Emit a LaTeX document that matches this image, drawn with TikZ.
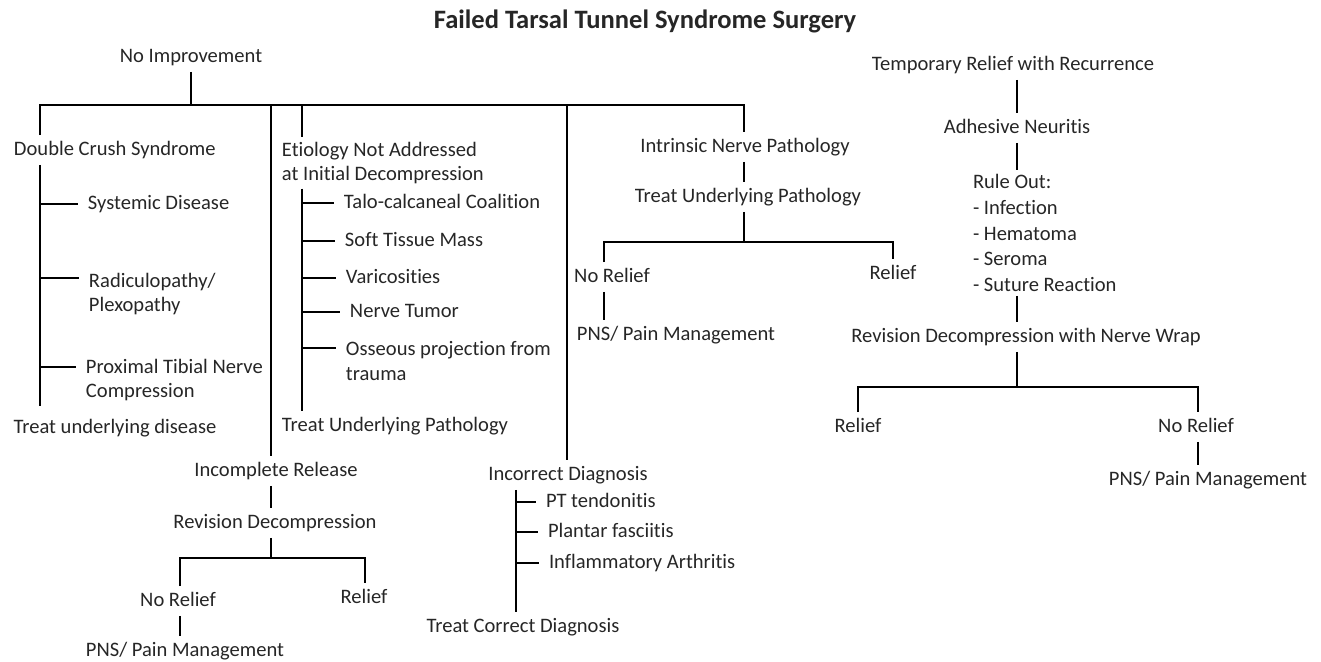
\documentclass[tikz,border=0pt]{standalone}
\usepackage{fontspec}
\setmainfont{Carlito}[Ligatures=NoCommon]
\usepackage{tikz}
\definecolor{ink}{HTML}{262626}
\tikzset{
  txt/.style={font=\fontsize{11.7pt}{14.2pt}\selectfont, text=ink, inner sep=0pt, outer sep=2.5pt},
  lbl/.style={txt, text height=9pt, text depth=3pt},
  lf/.style={lbl, anchor=west},
  blk/.style={txt, align=left, anchor=west},
  wire/.style={line width=1.5pt},
  tick/.style={wire, shorten >=3pt},
}

\begin{document}
\begin{tikzpicture}
\useasboundingbox (0,0) rectangle (26.420,-13.220);
\node[lbl,font=\bfseries\fontsize{15.1pt}{18pt}\selectfont] (ttl) at (12.900,-0.460) {Failed Tarsal Tunnel Syndrome Surgery};
\node[lbl] (nimp) at (3.820,-1.140) {No Improvement};
\node[lbl] (trr) at (20.260,-1.300) {Temporary Relief with Recurrence};
\coordinate (jA) at (0.800,-2.100);
\coordinate (jC) at (5.420,-2.100);
\coordinate (jE) at (6.040,-2.100);
\coordinate (jD) at (11.340,-2.100);
\coordinate (jB) at (14.880,-2.100);
\node[lf] (dcs) at (0.192,-3.000) {Double Crush Syndrome};
\node[lf] (sysd) at (1.672,-4.080) {Systemic Disease};
\node[blk] (radp) at (1.692,-5.880) {Radiculopathy/\\Plexopathy};
\node[blk] (ptnc) at (1.632,-7.600) {Proximal Tibial Nerve\\Compression};
\node[lbl] (tud) at (2.300,-8.560) {Treat underlying disease};
\node[blk] (eti) at (5.552,-3.260) {Etiology Not Addressed\\at Initial Decompression};
\node[lf] (tcc) at (6.792,-4.060) {Talo-calcaneal Coalition};
\node[lf] (stm) at (6.812,-4.820) {Soft Tissue Mass};
\node[lf] (var) at (6.832,-5.560) {Varicosities};
\node[lf] (ntm) at (6.912,-6.240) {Nerve Tumor};
\node[blk] (opt) at (6.832,-7.220) {Osseous projection from\\trauma};
\node[lbl] (tup1) at (7.900,-8.520) {Treat Underlying Pathology};
\node[lbl] (ir) at (5.520,-9.420) {Incomplete Release};
\node[lbl] (rd) at (5.500,-10.460) {Revision Decompression};
\coordinate (b1l) at (3.600,-11.160);
\coordinate (b1r) at (7.300,-11.160);
\node[lbl] (nr1) at (3.560,-12.020) {No Relief};
\node[lbl] (rel1) at (7.280,-11.960) {Relief};
\node[lbl] (pns1) at (3.700,-13.020) {PNS/ Pain Management};
\node[lbl] (idg) at (11.360,-9.500) {Incorrect Diagnosis};
\coordinate (isp) at (10.320,-9.700);
\node[lf] (ptt) at (10.832,-10.040) {PT tendonitis};
\node[lf] (plf) at (10.872,-10.640) {Plantar fasciitis};
\node[lf] (infa) at (10.892,-11.260) {Inflammatory Arthritis};
\node[lbl] (tcd) at (10.460,-12.540) {Treat Correct Diagnosis};
\node[lbl] (inp) at (14.900,-2.940) {Intrinsic Nerve Pathology};
\node[lbl] (tup2) at (14.960,-3.940) {Treat Underlying Pathology};
\coordinate (b2l) at (12.080,-4.840);
\coordinate (b2r) at (17.860,-4.840);
\node[lbl] (nr2) at (12.240,-5.540) {No Relief};
\node[lbl] (rel2) at (17.860,-5.480) {Relief};
\node[lbl] (pns2) at (13.520,-6.700) {PNS/ Pain Management};
\node[lbl] (an) at (20.340,-2.560) {Adhesive Neuritis};
\node[blk,font=\fontsize{11.7pt}{14.6pt}\selectfont] (ro) at (19.372,-4.660) {Rule Out:\\- Infection\\- Hematoma\\- Seroma\\- Suture Reaction};
\node[lbl] (rdw) at (20.520,-6.740) {Revision Decompression with Nerve Wrap};
\coordinate (b3l) at (17.160,-7.740);
\coordinate (b3r) at (23.960,-7.740);
\node[lbl] (rel3) at (17.160,-8.540) {Relief};
\node[lbl] (nr3) at (23.920,-8.540) {No Relief};
\node[lbl] (pns3) at (24.160,-9.600) {PNS/ Pain Management};
\coordinate (t2) at (0.800,-5.560);
\coordinate (t3) at (0.800,-7.340);
\coordinate (t9) at (6.040,-6.960);
\draw[wire] (nimp.south) -- (nimp.south |- jA);
\draw[wire] (dcs.north -| jA) -- (jA) -- (jB) -- (inp.north -| jB);
\draw[wire,shorten >=4pt] (dcs.south -| jA) -- (tud.north -| jA);
\draw[tick] (sysd.west -| jA) -- (sysd.west);
\draw[tick] (t2) -- (t2 -| radp.west);
\draw[tick] (t3) -- (t3 -| ptnc.west);
\draw[wire] (jE) -- (eti.north -| jE);
\draw[wire] (eti.south -| jE) -- (tup1.north -| jE);
\draw[tick] (tcc.west -| jE) -- (tcc.west);
\draw[tick] (stm.west -| jE) -- (stm.west);
\draw[tick] (var.west -| jE) -- (var.west);
\draw[tick] (ntm.west -| jE) -- (ntm.west);
\draw[tick] (t9) -- (t9 -| opt.west);
\draw[wire] (jC) -- (ir.north -| jC);
\draw[wire] (ir.south -| jC) -- (rd.north -| jC);
\draw[wire] (rd.south -| jC) -- (jC |- b1l);
\draw[wire] (nr1.north -| b1l) -- (b1l) -- (b1r) -- (rel1.north -| b1r);
\draw[wire] (nr1.south -| b1l) -- (pns1.north -| b1l);
\draw[wire] (jD) -- (idg.north -| jD);
\draw[wire] (idg.south -| isp) -- (tcd.north -| isp);
\draw[tick] (ptt.west -| isp) -- (ptt.west);
\draw[tick] (plf.west -| isp) -- (plf.west);
\draw[tick] (infa.west -| isp) -- (infa.west);
\draw[wire] (inp.south -| jB) -- (tup2.north -| jB);
\draw[wire] (tup2.south -| jB) -- (jB |- b2l);
\draw[wire] (nr2.north -| b2l) -- (b2l) -- (b2r) -- (rel2.north -| b2r);
\draw[wire] (nr2.south -| b2l) -- (pns2.north -| b2l);
\draw[wire] (trr.south -| an) -- (an.north);
\draw[wire] (an.south) -- (ro.north -| an);
\draw[wire] (ro.south -| an) -- (rdw.north -| an);
\draw[wire] (rdw.south -| an) -- (an |- b3l);
\draw[wire] (rel3.north -| b3l) -- (b3l) -- (b3r) -- (nr3.north -| b3r);
\draw[wire] (nr3.south -| b3r) -- (pns3.north -| b3r);
\end{tikzpicture}
\end{document}
